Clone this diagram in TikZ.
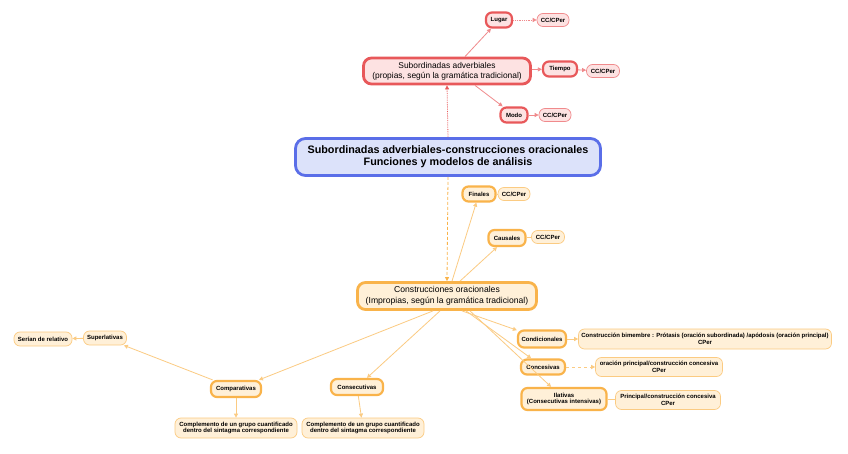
\documentclass[tikz,border=0pt]{standalone}
\usepackage{fontspec}
\setmainfont{Liberation Sans}
\usetikzlibrary{arrows.meta}
\definecolor{redb}{HTML}{E8585A}
\definecolor{redf}{HTML}{FDE2E2}
\definecolor{redl}{HTML}{F08A8C}
\definecolor{orb}{HTML}{F9B34A}
\definecolor{orf}{HTML}{FFF0D8}
\definecolor{orl}{HTML}{FBCB82}
\definecolor{blb}{HTML}{5A6EE8}
\definecolor{blf}{HTML}{DCE2FA}
\begin{document}
\begin{tikzpicture}[x=1pt,y=-1pt,
  base/.style={rounded corners=6pt, align=center, inner sep=0.5pt, font=\fontsize{6}{6.6}\selectfont\bfseries},
  central/.style={base, draw=blb, fill=blf, line width=2.8pt, rounded corners=10pt, font=\fontsize{10.8}{12}\selectfont\bfseries},
  rmain/.style={base, draw=redb, fill=redf, line width=2.8pt, rounded corners=8pt, font=\fontsize{8.4}{10}\selectfont},
  rsub/.style={base, draw=redb, fill=redf, line width=2.2pt},
  rleaf/.style={base, draw=redl, fill=redf, line width=0.7pt},
  omain/.style={base, draw=orb, fill=orf, line width=2.8pt, rounded corners=8pt, font=\fontsize{8.6}{10.5}\selectfont},
  osub/.style={base, draw=orb, fill=orf, line width=2.2pt},
  oleaf/.style={base, draw=orl, fill=orf, line width=0.7pt},
  rarr/.style={draw=redl, line width=0.8pt, -{Triangle[length=4pt,width=4pt]}},
  oarr/.style={draw=orl, line width=0.8pt, -{Triangle[length=4pt,width=4pt]}},
  oline/.style={draw=orl, line width=0.8pt}
]
\useasboundingbox[fill=white] (0,0) rectangle (848,454);

% central
\node[central, minimum width=305, minimum height=37] (c) at (448,157) {Subordinadas adverbiales-construcciones oracionales\\Funciones y modelos de análisis};

% red branch
\node[rmain, minimum width=167, minimum height=26] (sa) at (447,71) {Subordinadas adverbiales\\(propias, según la gramática tradicional)};
\node[rsub, minimum width=26, minimum height=15] (lugar) at (499,20) {Lugar};
\node[rleaf, minimum width=32, minimum height=13] (cc1) at (553,20) {CC/CPer};
\node[rsub, minimum width=34, minimum height=15] (tiempo) at (560,69) {Tiempo};
\node[rleaf, minimum width=33, minimum height=13] (cc2) at (603,71) {CC/CPer};
\node[rsub, minimum width=27, minimum height=15] (modo) at (514,115) {Modo};
\node[rleaf, minimum width=32, minimum height=13] (cc3) at (555,115) {CC/CPer};

% orange branch
\node[omain, minimum width=179, minimum height=27] (co) at (447,296) {Construcciones oracionales\\(Impropias, según la gramática tradicional)};
\node[osub, minimum width=33, minimum height=15] (fin) at (479,194) {Finales};
\node[oleaf, minimum width=32, minimum height=13] (cc4) at (514,194) {CC/CPer};
\node[osub, minimum width=37, minimum height=16] (cau) at (507,238) {Causales};
\node[oleaf, minimum width=33, minimum height=13] (cc5) at (548,237) {CC/CPer};

\node[osub, minimum width=50, minimum height=16] (comp) at (236,389) {Comparativas};
\node[oleaf, minimum width=43, minimum height=14] (sup) at (105,338) {Superlativas};
\node[oleaf, minimum width=58, minimum height=14] (rel) at (43,339) {Serían de relativo};
\node[oleaf, minimum width=122, minimum height=20] (cg1) at (236,428) {Complemento de un grupo cuantificado\\dentro del sintagma correspondiente};

\node[osub, minimum width=52, minimum height=16] (cons) at (357,387) {Consecutivas};
\node[oleaf, minimum width=122, minimum height=20] (cg2) at (363,428) {Complemento de un grupo cuantificado\\dentro del sintagma correspondiente};

\node[osub, minimum width=48, minimum height=17] (cond) at (542,339) {Condicionales};
\node[oleaf, minimum width=253, minimum height=20] (bim) at (705,339) {Construcción bimembre : Prótasis (oración subordinada) /apódosis (oración principal)\\CPer};
\node[osub, minimum width=44, minimum height=15] (conc) at (543,367) {Concesivas};
\node[oleaf, minimum width=127, minimum height=19] (opc) at (659,367) {oración principal/construcción concesiva\\CPer};
\node[osub, minimum width=85, minimum height=22] (ila) at (564,399) {Ilativas\\(Consecutivas intensivas)};
\node[oleaf, minimum width=105, minimum height=19] (ppc) at (668,400) {Principal/construcción concesiva\\CPer};

% connectors red
\draw[rarr, densely dotted, draw=redb] (c.north) -- (sa.south);
\draw[rarr] (sa.north -| 465,0) -- (lugar);
\draw[rarr, densely dotted] (lugar) -- (cc1);
\draw[rarr] (sa) -- (tiempo);
\draw[rarr] (tiempo) -- (cc2);
\draw[rarr] (sa.south -| 475,0) -- (modo);
\draw[rarr] (modo) -- (cc3);

% connectors orange
\draw[oarr, densely dashed, draw=orb] (c.south) -- (co.north);
\draw[oarr] (co.north -| 452,0) -- (fin);
\draw[oline] (fin) -- (cc4);
\draw[oarr] (co.north -| 460,0) -- (cau);
\draw[oline] (cau) -- (cc5);
\draw[oarr] (co.south -| 433,0) -- (comp);
\draw[oarr] (comp) -- (sup);
\draw[oarr] (sup) -- (rel);
\draw[oarr] (comp) -- (cg1);
\draw[oarr] (co.south -| 440,0) -- (cons);
\draw[oarr] (cons) -- (cg2);
\draw[oarr] (co.south -| 462,0) -- (cond);
\draw[oarr] (co.south -| 466,0) -- (conc);
\draw[oarr] (co.south -| 470,0) -- (ila);
\draw[oarr] (cond) -- (bim);
\draw[oarr, dashed] (conc) -- (opc);
\draw[oline] (ila) -- (ppc);
\end{tikzpicture}
\end{document}
